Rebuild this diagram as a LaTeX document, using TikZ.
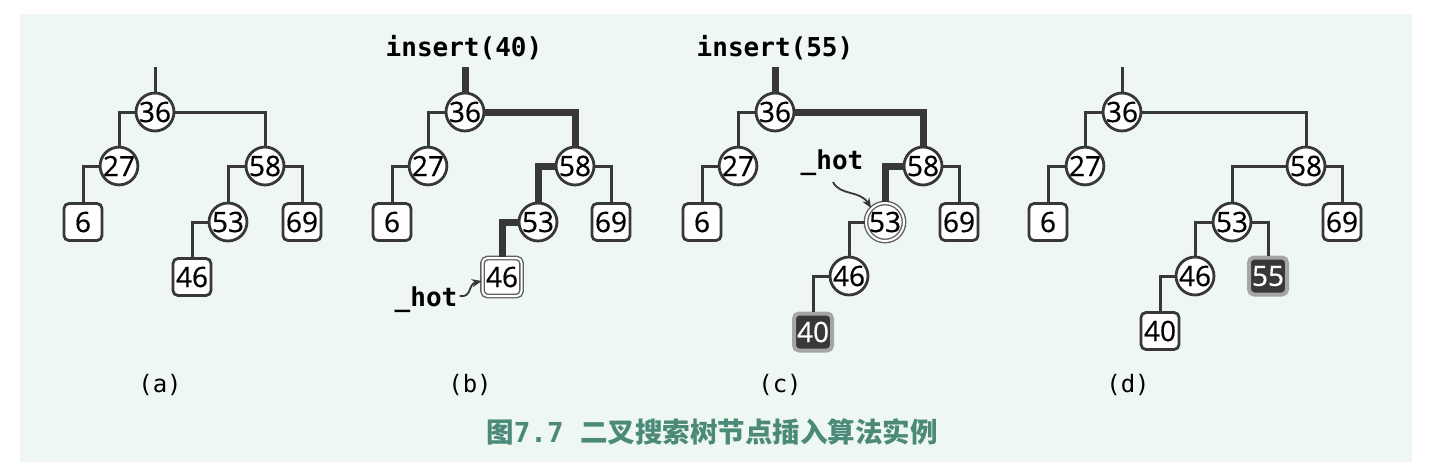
\documentclass[tikz,border=0pt]{standalone}
\usepackage{fontspec}
\setmainfont{Open Sans}
\setmonofont{DejaVu Sans Mono}
\newfontfamily\numf{Open Sans}[FakeBold=0.6]
\newfontfamily\cjk{Noto Sans CJK SC}
\usetikzlibrary{arrows.meta}
\definecolor{bgc}{HTML}{EEF7F2}
\definecolor{ln}{HTML}{383838}
\definecolor{capc}{HTML}{4B8A78}
\begin{document}
\begin{tikzpicture}[x=0.5pt,y=-0.5pt,
  edge/.style={draw=ln,line width=1.5pt},
  hedge/.style={draw=ln,line width=3.5pt},
  numfont/.style={font=\numf\fontsize{14}{14}\selectfont},
  inode/.style={circle,draw=ln,line width=1.4pt,fill=white,minimum size=18.5pt,inner sep=0pt,numfont},
  leaf/.style={rectangle,rounded corners=2.5pt,draw=ln,line width=1.4pt,fill=white,minimum width=19pt,minimum height=18.5pt,inner sep=0pt,numfont},
  hotbox/.style={leaf,draw=ln!80,line width=0.7pt,double=white,double distance=1pt,minimum width=19.5pt,minimum height=19pt},
  hotcirc/.style={inode,draw=ln!80,line width=0.7pt,double=white,double distance=1pt,minimum size=19pt},
  newbox/.style={leaf,fill=ln,text=white,draw=ln!45,line width=2pt},
  code/.style={font=\ttfamily\bfseries\fontsize{13}{13}\selectfont,inner sep=0pt},
  sub/.style={font=\ttfamily\fontsize{12}{12}\selectfont,inner sep=0pt},
  harrow/.style={draw=ln,line width=0.9pt,-{Stealth[length=5pt,width=4pt]}}
]
\useasboundingbox (0,0) rectangle (1440,473);
\fill[white] (0,0) rectangle (1440,473);
\fill[bgc] (20,14) rectangle (1412,462);

% ---------- (a)
\coordinate (ar) at (155,67);
\node[inode] (a36) at (155,112) {36};
\node[inode] (a27) at (119,166) {27};
\node[inode] (a58) at (265,166) {58};
\node[leaf]  (a6)  at (83,222) {6};
\node[inode] (a53) at (228,222) {53};
\node[leaf]  (a69) at (302,222) {69};
\node[leaf]  (a46) at (192,277) {46};
\draw[edge] (ar) -- (a36.north);
\draw[edge] (a36.west) -| (a27.north);
\draw[edge] (a36.east) -| (a58.north);
\draw[edge] (a27.west) -| (a6.north);
\draw[edge] (a58.west) -| (a53.north);
\draw[edge] (a58.east) -| (a69.north);
\draw[edge] (a53.west) -| (a46.north);
\node[sub] (la) at (160,385) {(a)};

% ---------- (b)
\node[code] (insb) at (464,48) {insert(40)};
\coordinate (br) at (465,67);
\node[inode] (b36) at (465,112) {36};
\node[inode] (b27) at (428,166) {27};
\node[inode] (b58) at (575,166) {58};
\node[leaf]  (b6)  at (392,222) {6};
\node[inode] (b53) at (538,222) {53};
\node[leaf]  (b69) at (611,222) {69};
\node[hotbox] (b46) at (502,277) {46};
\draw[hedge] (br) -- (b36.north);
\draw[hedge] (b36.east) -| (b58.north);
\draw[hedge] (b58.west) -| (b53.north);
\draw[hedge] (b53.west) -| (b46.north);
\draw[edge] (b36.west) -| (b27.north);
\draw[edge] (b27.west) -| (b6.north);
\draw[edge] (b58.east) -| (b69.north);
\node[code] (hotb) at (426,300) {\_hot};
\draw[harrow] ([xshift=1pt,yshift=2pt]hotb.east) .. controls (472,298) and (468,284) .. ([yshift=-2pt]b46.west);
\node[sub] (lb) at (470,385) {(b)};

% ---------- (c)
\node[code] (insc) at (775,48) {insert(55)};
\coordinate (cr) at (775,67);
\node[inode] (c36) at (775,112) {36};
\node[inode] (c27) at (738,166) {27};
\node[inode] (c58) at (923,166) {58};
\node[leaf]  (c6)  at (702,222) {6};
\node[hotcirc] (c53) at (885,222) {53};
\node[leaf]  (c69) at (959,222) {69};
\node[inode] (c46) at (849,276) {46};
\node[newbox] (c40) at (813,332) {40};
\draw[hedge] (cr) -- (c36.north);
\draw[hedge] (c36.east) -| (c58.north);
\draw[hedge] (c58.west) -| (c53.north);
\draw[edge] (c36.west) -| (c27.north);
\draw[edge] (c27.west) -| (c6.north);
\draw[edge] (c58.east) -| (c69.north);
\draw[edge] (c53.west) -| (c46.north);
\draw[edge] (c46.west) -| (c40.north);
\node[code] (hotc) at (832,163) {\_hot};
\draw[harrow] (833,182) .. controls (840,196) and (860,190) .. (c53.north west);
\node[sub] (lc) at (780,385) {(c)};

% ---------- (d)
\coordinate (dr) at (1122,67);
\node[inode] (d36) at (1122,112) {36};
\node[inode] (d27) at (1085,166) {27};
\node[inode] (d58) at (1306,166) {58};
\node[leaf]  (d6)  at (1048,222) {6};
\node[inode] (d53) at (1232,222) {53};
\node[leaf]  (d69) at (1342,222) {69};
\node[inode] (d46) at (1195,276) {46};
\node[newbox] (d55) at (1268,276) {55};
\node[leaf]  (d40) at (1160,331) {40};
\draw[edge] (dr) -- (d36.north);
\draw[edge] (d36.west) -| (d27.north);
\draw[edge] (d36.east) -| (d58.north);
\draw[edge] (d27.west) -| (d6.north);
\draw[edge] (d58.west) -| (d53.north);
\draw[edge] (d58.east) -| (d69.north);
\draw[edge] (d53.west) -| (d46.north);
\draw[edge] (d53.east) -| (d55.north);
\draw[edge] (d46.west) -| (d40.north);
\node[sub] (ld) at (1128,385) {(d)};

% ---------- caption
\node[text=capc,inner sep=0pt] (cap) at (712,432) {\fontsize{13.75}{14}\selectfont\cjk\bfseries 图{\ttfamily\bfseries 7.7}\hspace{0.6em}二叉搜索树节点插入算法实例};
\end{tikzpicture}
\end{document}
